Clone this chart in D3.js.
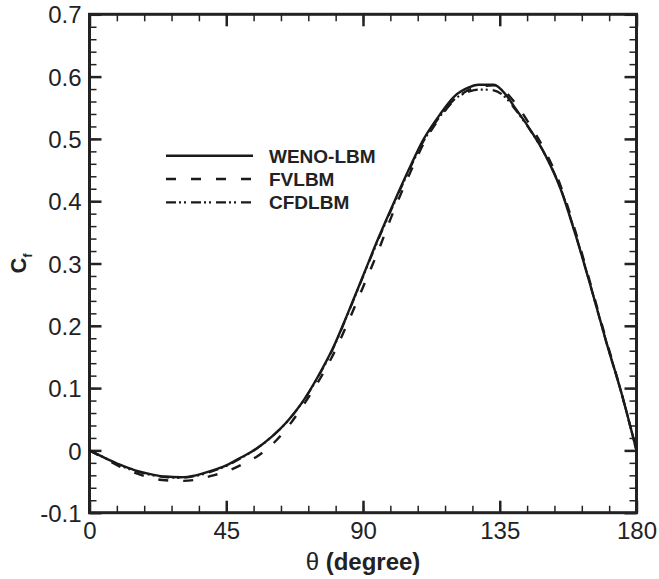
<!DOCTYPE html>
<html><head><meta charset="utf-8">
<script src="https://cdn.jsdelivr.net/npm/d3@7"></script>
<style>body{margin:0;background:#fff}svg{display:block}</style>
</head><body><svg id="c" width="659" height="579"></svg>
<script>
const theta = [0,5,10,15,20,25,30,35,40,45,50,55,60,65,70,75,80,85,90,95,100,105,110,115,120,125,128,130,133,137,140,145,150,155,160,165,170,175,180];
const wenoLBM = [0,-0.012,-0.023,-0.032,-0.038,-0.042,-0.043,-0.040,-0.033,-0.024,-0.011,0.003,0.022,0.046,0.077,0.117,0.163,0.220,0.280,0.340,0.396,0.450,0.500,0.537,0.568,0.583,0.587,0.587,0.587,0.571,0.550,0.515,0.474,0.420,0.345,0.262,0.175,0.093,0];
const fvLBM = [0,-0.013,-0.026,-0.036,-0.044,-0.048,-0.049,-0.047,-0.041,-0.034,-0.023,-0.010,0.009,0.036,0.070,0.108,0.152,0.205,0.262,0.320,0.383,0.440,0.493,0.532,0.562,0.579,0.584,0.585,0.586,0.575,0.558,0.522,0.480,0.425,0.350,0.265,0.178,0.093,0];
const cfdLBM = [0,-0.012,-0.024,-0.033,-0.039,-0.043,-0.044,-0.041,-0.034,-0.025,-0.012,0.003,0.022,0.046,0.077,0.116,0.162,0.219,0.279,0.338,0.394,0.448,0.497,0.534,0.563,0.576,0.579,0.579,0.578,0.566,0.548,0.514,0.474,0.421,0.346,0.262,0.175,0.093,0];
const xTicks = [0,45,90,135,180];
const yTicks = [-0.1,0,0.1,0.2,0.3,0.4,0.5,0.6,0.7];
const yTickLabels = ["-0.1","0","0.1","0.2","0.3","0.4","0.5","0.6","0.7"];
const seriesNames = ["WENO-LBM","FVLBM","CFDLBM"];

const svg = d3.select("#c");
const L=89.5, R=636.5, T=14.3, B=512.7;
const x = d3.scaleLinear().domain([0,180]).range([L,R]);
const y = d3.scaleLinear().domain([-0.1,0.7]).range([B,T]);
const font = "'Liberation Sans', Arial, Helvetica, sans-serif";

const minorX = d3.range(0,181,9);
const minorY = d3.range(-10,71,2).map(v=>+(v/100).toFixed(2));

function styleAxis(g, w){ g.select(".domain").remove(); g.selectAll("line").attr("stroke","#222").attr("stroke-width",w); }

// bottom
svg.append("g").attr("transform",`translate(0,${B})`).call(d3.axisBottom(x).tickValues(minorX).tickSize(-7).tickFormat("")).call(g=>styleAxis(g,1.5));
svg.append("g").attr("transform",`translate(0,${B})`).call(d3.axisBottom(x).tickValues(xTicks).tickSize(-12).tickFormat(d3.format("d"))).call(g=>{styleAxis(g,2.5);g.selectAll("text").attr("font-family",font).attr("font-size",24).attr("fill","#222").attr("dy","0.71em").attr("y",9);});
// top
svg.append("g").attr("transform",`translate(0,${T})`).call(d3.axisTop(x).tickValues(minorX).tickSize(-7).tickFormat("")).call(g=>styleAxis(g,1.5));
svg.append("g").attr("transform",`translate(0,${T})`).call(d3.axisTop(x).tickValues(xTicks).tickSize(-12).tickFormat("")).call(g=>styleAxis(g,2.5));
// left
svg.append("g").attr("transform",`translate(${L},0)`).call(d3.axisLeft(y).tickValues(minorY).tickSize(-7).tickFormat("")).call(g=>styleAxis(g,1.5));
svg.append("g").attr("transform",`translate(${L},0)`).call(d3.axisLeft(y).tickValues(yTicks).tickSize(-12).tickFormat((d,i)=>yTickLabels[i])).call(g=>{styleAxis(g,2.5);g.selectAll("text").attr("font-family",font).attr("font-size",24).attr("fill","#222").attr("x",-8).attr("dy","0.36em");});
// right
svg.append("g").attr("transform",`translate(${R},0)`).call(d3.axisRight(y).tickValues(minorY).tickSize(-7).tickFormat("")).call(g=>styleAxis(g,1.5));
svg.append("g").attr("transform",`translate(${R},0)`).call(d3.axisRight(y).tickValues(yTicks).tickSize(-12).tickFormat("")).call(g=>styleAxis(g,2.5));

// frame
svg.append("rect").attr("x",L).attr("y",T).attr("width",R-L).attr("height",B-T).attr("fill","none").attr("stroke","#222").attr("stroke-width",3);

svg.append("clipPath").attr("id","clip").append("rect").attr("x",L).attr("y",T).attr("width",R-L).attr("height",B-T);

const line = d3.line().x((d,i)=>x(theta[i])).y(d=>y(d)).curve(d3.curveMonotoneX);
const styles = [
  {data:wenoLBM, dash:null, w:2.4},
  {data:fvLBM, dash:"10,15", w:2.4},
  {data:cfdLBM, dash:"10,3,2,3,2,5", w:2.2}
];
const pg = svg.append("g").attr("clip-path","url(#clip)");
styles.forEach(s=>{
  pg.append("path").datum(s.data).attr("d",line).attr("fill","none").attr("stroke","#1a1a1a").attr("stroke-width",s.w).attr("stroke-dasharray",s.dash).attr("stroke-linejoin","round");
});

// legend
const lg = svg.append("g");
const legY = [155.7,179,202.3];
styles.forEach((s,i)=>{
  lg.append("line").attr("x1",166).attr("x2",253).attr("y1",legY[i]).attr("y2",legY[i]).attr("stroke","#1a1a1a").attr("stroke-width",s.w).attr("stroke-dasharray",s.dash);
  lg.append("text").attr("x",269).attr("y",legY[i]).attr("dy","0.36em").attr("font-family",font).attr("font-weight","bold").attr("font-size",19).attr("fill","#222").text(seriesNames[i]);
});

// axis titles
const xt = svg.append("text").attr("x",(L+R)/2).attr("y",570).attr("text-anchor","middle").attr("font-family",font).attr("font-size",24).attr("fill","#222");
xt.append("tspan").text("θ ");
xt.append("tspan").attr("font-weight","bold").text("(degree)");

const yt = svg.append("text").attr("transform",`translate(26,${(T+B)/2}) rotate(-90)`).attr("text-anchor","middle").attr("font-family",font).attr("font-weight","bold").attr("font-size",22).attr("fill","#222");
yt.append("tspan").text("C");
yt.append("tspan").attr("font-size",12).attr("dy",6).text("f");
</script></body></html>
